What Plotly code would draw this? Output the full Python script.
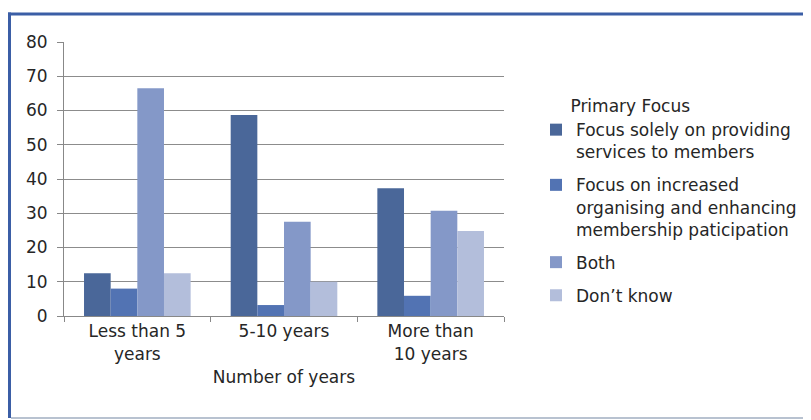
import plotly.graph_objects as go

categories = ["Less than 5<br>years", "5-10 years", "More than<br>10 years"]
series_names = [
    "Focus solely on providing<br>services to members",
    "Focus on increased<br>organising and enhancing<br>membership paticipation",
    "Both",
    "Don\u2019t know",
]
solely_services = [12.5, 58.7, 37.3]
increased_organising = [8.0, 3.2, 5.9]
both = [66.5, 27.5, 30.7]
dont_know = [12.5, 10.0, 24.8]
y_ticks = [0, 10, 20, 30, 40, 50, 60, 70, 80]

colors = ["#4a6799", "#5273b3", "#8498c8", "#b3bedb"]
values = [solely_services, increased_organising, both, dont_know]

# page has an 8px body margin; figure sized to fill the rest of the window
OFF = 8
W, H = 803, 412
L, R, T, B = 56, 307, 34, 104
pw, ph = W - L - R, H - T - B


def px(sx):
    return (sx - OFF - L) / pw


def py(sy):
    return (H - B - (sy - OFF)) / ph


def cx(sx):
    return (sx - OFF) / W


def cy(sy):
    return 1 - (sy - OFF) / H


fig = go.Figure()
for i, (name, vals, c) in enumerate(zip(series_names, values, colors)):
    fig.add_trace(go.Bar(x=categories, y=vals, name=name, legendgroup=f"g{i}",
                         marker=dict(color=c, line=dict(width=0))))

font_family = "DejaVu Sans, Open Sans, sans-serif"
fig.update_layout(
    width=W, height=H,
    margin=dict(l=L, r=R, t=T, b=B, autoexpand=False),
    paper_bgcolor="white", plot_bgcolor="white",
    barmode="group", bargap=0.273, bargroupgap=0,
    font=dict(family=font_family, size=17, color="#262626"),
    showlegend=True,
    legend=dict(
        xref="container", yref="container",
        x=cx(536), y=cy(90), xanchor="left", yanchor="top",
        title=dict(text="\u00a0\u00a0\u00a0\u00a0\u00a0\u00a0Primary Focus", side="top", font=dict(size=17)),
        font=dict(size=17), traceorder="grouped", tracegroupgap=8,
        valign="top", bgcolor="rgba(0,0,0,0)", maxheight=400,
    ),
    xaxis=dict(
        showline=True, linecolor="#888888", linewidth=1,
        ticks="outside", ticklen=5, tickcolor="#888888",
        tickson="boundaries", tickfont=dict(size=17),
        title=dict(text="Number of years", font=dict(size=17), standoff=8),
    ),
    yaxis=dict(
        range=[0, 80], tickvals=y_ticks, showgrid=True, gridcolor="#8c8c8c", gridwidth=1,
        showline=True, linecolor="#888888", linewidth=1,
        ticks="outside", ticklen=6, tickcolor="#888888",
        tickfont=dict(size=17), zeroline=False, ticklabelstandoff=6,
    ),
)

# outer frame: blue top and left edges, light grey bottom edge
fig.add_shape(type="line", xref="paper", yref="paper", x0=px(8), x1=px(811), y0=py(14), y1=py(14),
              line=dict(color="#3b5ea6", width=3), layer="above")
fig.add_shape(type="line", xref="paper", yref="paper", x0=px(9.5), x1=px(9.5), y0=py(12.5), y1=py(418),
              line=dict(color="#3b5ea6", width=3), layer="above")
fig.add_shape(type="line", xref="paper", yref="paper", x0=px(11), x1=px(811), y0=py(418), y1=py(418),
              line=dict(color="#b8c2d0", width=2))

fig.write_html("out.html")
